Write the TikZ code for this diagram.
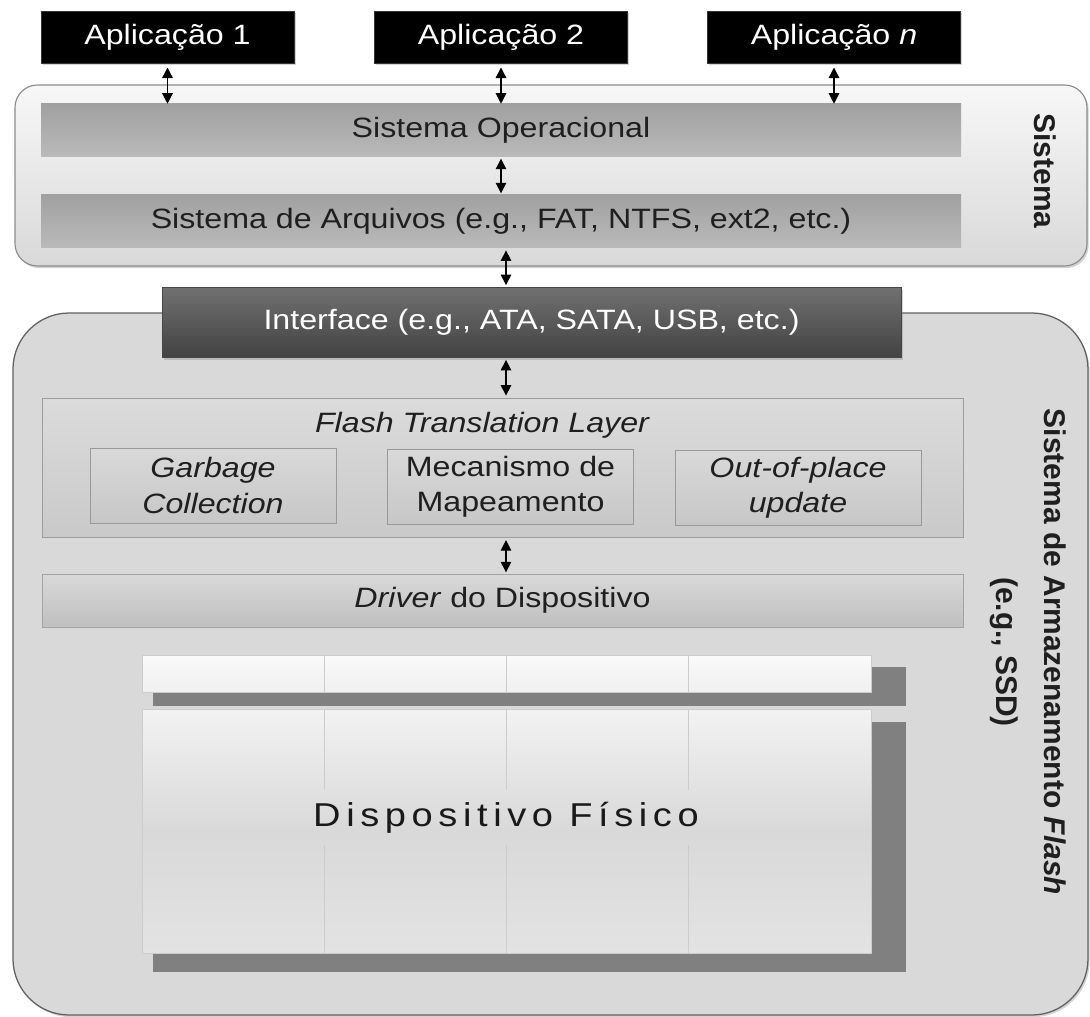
\documentclass[tikz,border=0pt]{standalone}
\usepackage{fontspec}
\setmainfont{Liberation Sans}[FakeStretch=1.15]
\newfontfamily\sidefont{Liberation Sans}
\usetikzlibrary{arrows.meta}
\usetikzlibrary{shadows}
\newcommand{\pxu}{0.025cm}
\newcommand{\txt}{\fontsize{19.9}{24.9}\selectfont}
\tikzset{
  softshadow/.style={drop shadow={shadow xshift=1.2pt, shadow yshift=-1.5pt, opacity=.35}},
  app/.style={fill=black, draw=black!80, text=white, font=\txt, inner sep=0pt,
    minimum width=253*\pxu, minimum height=52*\pxu, softshadow},
  oslayer/.style={top color=black!37, bottom color=black!27, text=black!88, font=\txt,
    inner sep=0pt, minimum width=920*\pxu, minimum height=53*\pxu},
  iface/.style={top color=black!56, bottom color=black!74, draw=black!72, text=white, font=\txt,
    inner sep=0pt, minimum width=739*\pxu, minimum height=70*\pxu, softshadow},
  ftlbox/.style={draw=black!38, top color=black!14, bottom color=black!21, inner sep=0pt,
    minimum width=921*\pxu, minimum height=139*\pxu},
  subbox/.style={draw=black!40, top color=black!15, bottom color=black!22, text=black!88,
    font=\txt, align=center, inner sep=0pt, minimum width=246*\pxu, minimum height=75*\pxu},
  drvbox/.style={draw=black!36, top color=black!15, bottom color=black!25, text=black!88,
    font=\txt, inner sep=0pt, minimum width=921*\pxu, minimum height=53*\pxu},
  sidelabel/.style={rotate=-90, font=\sidefont\bfseries\fontsize{21.3}{34.1}\selectfont,
    align=center, text=black!88},
  dblarrow/.style={{Triangle[length=7.5pt,width=7.5pt]}-{Triangle[length=7.5pt,width=7.5pt]},
    line width=0.9pt},
  cellrow/.style={draw=black!20, top color=white!98!black, bottom color=white!94!black},
  cellblock/.style={draw=black!20, top color=white!95!black, bottom color=white!89!black,
    middle color=white!85!black},
}
\begin{document}
\begin{tikzpicture}[x=0.025cm, y=-0.025cm]
\useasboundingbox (0,0) rectangle (1090,1017);

% sistema
\draw[draw=black!45, line width=0.8pt, rounded corners=16pt, top color=white!97!black,
  bottom color=white!85!black, softshadow] (15,85) rectangle (1087,266);
\node[app] (app1) at (167.5,37) {Aplicação 1};
\node[app] (app2) at (501,37) {Aplicação 2};
\node[app] (appn) at (834,37) {Aplicação \textit{n}};
\node[oslayer] (so) at (501,130.5) {Sistema Operacional};
\node[oslayer] (sa) at (501,221.5) {Sistema de Arquivos (e.g., FAT, NTFS, ext2, etc.)};
\node[sidelabel] (sistema) at (1045,171) {Sistema};

% armazenamento
\draw[draw=black!62, line width=0.9pt, rounded corners=40pt, fill=black!15, softshadow]
  (13,313) rectangle (1088,1015);
\node[iface] (ifc) at (531.5,322.5) {Interface (e.g., ATA, SATA, USB, etc.)};
\node[ftlbox] (ftl) at (502.5,467.5) {};
\node[font=\txt\itshape, text=black!88] (ftltitle) at (482,425) {Flash Translation Layer};
\node[subbox] (gc) at (213,485.5) {\itshape Garbage\\\itshape Collection};
\node[subbox] (mm) at (510.5,487) {Mecanismo de\\Mapeamento};
\node[subbox] (op) at (798,488) {\itshape Out-of-place\\\itshape update};
\node[drvbox] (drv) at (502.5,600.5) {\textit{Driver} do Dispositivo};
\node[sidelabel] (armaz) at (1028,652) {Sistema de Armazenamento \textit{Flash}\\(e.g., SSD)};

% dispositivo fisico
\fill[black!50] (153,667) rectangle (906,706);
\fill[black!50] (153,722) rectangle (906,972);
\draw[cellrow] (142,655) rectangle (871,692);
\draw[cellblock] (142,709) rectangle (871,953);
\foreach \cx in {324,506,688} {
  \draw[black!20] (\cx,655) -- (\cx,692);
  \draw[black!20] (\cx,709) -- (\cx,790);
  \draw[black!20] (\cx,845) -- (\cx,953);
}
\node[font=\fontsize{23.5}{28}\selectfont\addfontfeature{LetterSpace=17}, text=black!90]
  (fisico) at (506,818) {Dispositivo Físico};

% setas
\coordinate (axisA) at (501,0);
\coordinate (axisB) at (506,0);
\draw[dblarrow, shorten <=3pt] (app1.south) -- (app1.south |- so.north);
\draw[dblarrow, shorten <=3pt] (app2.south) -- (app2.south |- so.north);
\draw[dblarrow, shorten <=3pt] (appn.south) -- (appn.south |- so.north);
\draw[dblarrow, shorten <=1pt, shorten >=1pt] (so.south -| axisA) -- (sa.north -| axisA);
\draw[dblarrow, shorten <=1.5pt, shorten >=1.5pt] (sa.south -| axisB) -- (ifc.north -| axisB);
\draw[dblarrow, shorten <=1.5pt, shorten >=1.5pt] (ifc.south -| axisB) -- (ftl.north -| axisB);
\draw[dblarrow, shorten <=2pt, shorten >=1pt] (ftl.south -| axisB) -- (drv.north -| axisB);
\end{tikzpicture}
\end{document}
